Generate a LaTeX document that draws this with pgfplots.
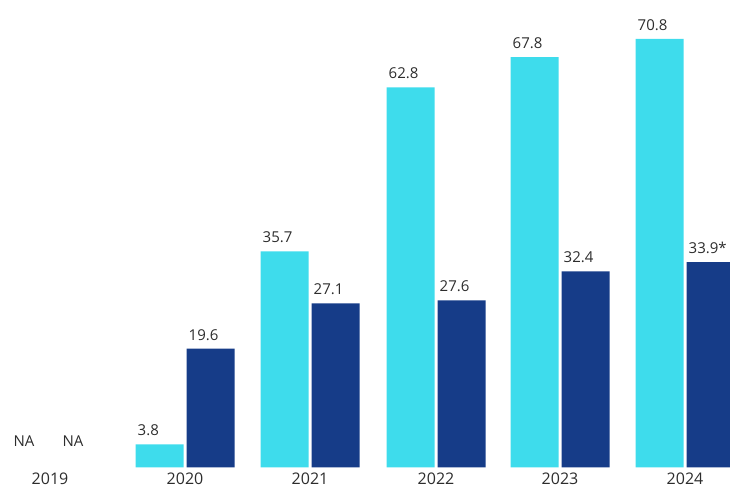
\documentclass[border=0pt]{standalone}
\usepackage{pgfplots}
\pgfplotsset{compat=1.18}
\usepackage{fontspec}
\setmainfont{Open Sans}
\definecolor{lightbar}{RGB}{62,220,236}
\definecolor{darkbar}{RGB}{22,60,136}
\definecolor{txt}{RGB}{45,45,45}
\begin{document}
\begin{tikzpicture}
\begin{axis}[
  width=730pt, height=488pt, scale only axis,
  xmin=0, xmax=730, ymin=-4.13, ymax=76.53,
  axis line style={draw=none},
  tick style={draw=none},
  ytick=\empty,
  xtick={50,185,310,436,560,685},
  xticklabels={2019,2020,2021,2022,2023,2024},
  xticklabel style={yshift=27pt, font=\fontsize{16}{18}\selectfont, text=txt},
  ybar, bar width=48pt,
  point meta=explicit symbolic,
  nodes near coords={\pgfplotspointmeta},
  every node near coord/.append style={font=\fontsize{15}{17}\selectfont, text=txt,
    anchor=south west, inner sep=0pt, xshift=-22pt, yshift=8pt},
]
\addplot[fill=lightbar, draw=none, bar shift=-25.5pt]
  coordinates {(185,3.8) [3.8] (310,35.7) [35.7] (436,62.8) [62.8] (560,67.8) [67.8] (685,70.8) [70.8]};
\addplot[fill=darkbar, draw=none, bar shift=25.5pt]
  coordinates {(185,19.6) [19.6] (310,27.1) [27.1] (436,27.6) [27.6] (560,32.4) [32.4] (685,33.9) [33.9*]};
\node[font=\fontsize{15}{17}\selectfont, text=txt] at (axis cs:24,4.3) {NA};
\node[font=\fontsize{15}{17}\selectfont, text=txt] at (axis cs:73,4.3) {NA};
\end{axis}
\end{tikzpicture}
\end{document}
